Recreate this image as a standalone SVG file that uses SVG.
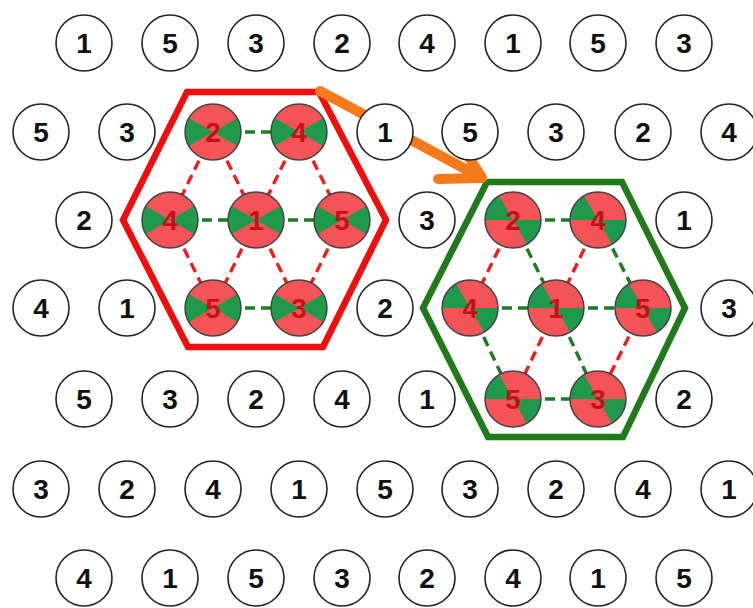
<svg xmlns="http://www.w3.org/2000/svg" xmlns:xlink="http://www.w3.org/1999/xlink" width="753" height="608" viewBox="0 0 753 608">
<style>
.c{fill:#fff;stroke:#222;stroke-width:1.6}
.t{font-family:"Liberation Sans",Arial,sans-serif;font-weight:bold;font-size:28px;fill:#111;text-anchor:middle}
.tr{font-family:"Liberation Sans",Arial,sans-serif;font-weight:bold;font-size:28px;fill:#c41018;text-anchor:middle}
.dg{fill:none;stroke:#1d7a22;stroke-width:3.4;stroke-dasharray:10 6}
.dr{fill:none;stroke:#f01c1c;stroke-width:3.4;stroke-dasharray:10 6}
.hr{fill:none;stroke:#f20c0c;stroke-width:6.5;stroke-linejoin:miter}
.hg{fill:none;stroke:#1f7a1a;stroke-width:6.5;stroke-linejoin:miter}
.ar{fill:none;stroke:#f57a1c;stroke-width:10;stroke-linecap:round;stroke-linejoin:round}
</style>
<defs>
<g id="pieA">
<circle r="28" fill="#f45458"/>
<path d="M0 0 L24.25 -14 A28 28 0 0 1 24.25 14 Z M0 0 L-24.25 14 A28 28 0 0 1 -24.25 -14 Z" fill="#1f9a4c"/>
<circle r="28" fill="none" stroke="#444" stroke-width="1.5"/>
</g>
<g id="pieB">
<circle r="28" fill="#f45458"/>
<path d="M0 0 L28 0 A28 28 0 0 1 14 24.25 Z M0 0 L-28 0 A28 28 0 0 1 -14 -24.25 Z" fill="#1f9a4c"/>
<circle r="28" fill="none" stroke="#444" stroke-width="1.5"/>
</g>
</defs>
<rect width="753" height="608" fill="#fff"/>

<g id="connectors">
<line class="dg" x1="213" y1="132" x2="299" y2="132"/>
<line class="dg" x1="170" y1="220" x2="256" y2="220"/>
<line class="dg" x1="256" y1="220" x2="342" y2="220"/>
<line class="dg" x1="213" y1="308" x2="299" y2="308"/>
<line class="dr" x1="213" y1="132" x2="170" y2="220"/>
<line class="dr" x1="213" y1="132" x2="256" y2="220"/>
<line class="dr" x1="299" y1="132" x2="256" y2="220"/>
<line class="dr" x1="299" y1="132" x2="342" y2="220"/>
<line class="dr" x1="170" y1="220" x2="213" y2="308"/>
<line class="dr" x1="256" y1="220" x2="213" y2="308"/>
<line class="dr" x1="256" y1="220" x2="299" y2="308"/>
<line class="dr" x1="342" y1="220" x2="299" y2="308"/>
<line class="dg" x1="513" y1="220" x2="598" y2="220"/>
<line class="dg" x1="470" y1="308" x2="556" y2="308"/>
<line class="dg" x1="556" y1="308" x2="643" y2="308"/>
<line class="dg" x1="513" y1="399" x2="598" y2="399"/>
<line class="dr" x1="513" y1="220" x2="470" y2="308"/>
<line class="dg" x1="513" y1="220" x2="556" y2="308"/>
<line class="dr" x1="598" y1="220" x2="556" y2="308"/>
<line class="dg" x1="598" y1="220" x2="643" y2="308"/>
<line class="dg" x1="470" y1="308" x2="513" y2="399"/>
<line class="dr" x1="556" y1="308" x2="513" y2="399"/>
<line class="dg" x1="556" y1="308" x2="598" y2="399"/>
<line class="dr" x1="643" y1="308" x2="598" y2="399"/>
<polygon class="hr" points="187,92 319,92 386,220 323,347 188,347 123,220"/>
<polygon class="hg" points="487,182 622,182 685,308 623,437 488,437 423,308"/>
<path class="ar" d="M320 91 L482 178 M459 141 L482 178 L438 179"/>
</g>

<g id="r1-1"><circle class="c" cx="84" cy="43" r="28"/><text class="t" x="84" y="53">1</text></g>
<g id="r1-2"><circle class="c" cx="170" cy="43" r="28"/><text class="t" x="170" y="53">5</text></g>
<g id="r1-3"><circle class="c" cx="256" cy="43" r="28"/><text class="t" x="256" y="53">3</text></g>
<g id="r1-4"><circle class="c" cx="342" cy="43" r="28"/><text class="t" x="342" y="53">2</text></g>
<g id="r1-5"><circle class="c" cx="427" cy="43" r="28"/><text class="t" x="427" y="53">4</text></g>
<g id="r1-6"><circle class="c" cx="513" cy="43" r="28"/><text class="t" x="513" y="53">1</text></g>
<g id="r1-7"><circle class="c" cx="598" cy="43" r="28"/><text class="t" x="598" y="53">5</text></g>
<g id="r1-8"><circle class="c" cx="684" cy="43" r="28"/><text class="t" x="684" y="53">3</text></g>

<g id="r2-1"><circle class="c" cx="41" cy="132" r="28"/><text class="t" x="41" y="142">5</text></g>
<g id="r2-2"><circle class="c" cx="127" cy="132" r="28"/><text class="t" x="127" y="142">3</text></g>
<g id="r2-5"><circle class="c" cx="385" cy="132" r="28"/><text class="t" x="385" y="142">1</text></g>
<g id="r2-6"><circle class="c" cx="470" cy="132" r="28"/><text class="t" x="470" y="142">5</text></g>
<g id="r2-7"><circle class="c" cx="556" cy="132" r="28"/><text class="t" x="556" y="142">3</text></g>
<g id="r2-8"><circle class="c" cx="643" cy="132" r="28"/><text class="t" x="643" y="142">2</text></g>
<g id="r2-9"><circle class="c" cx="729" cy="132" r="28"/><text class="t" x="729" y="142">4</text></g>

<g id="r3-1"><circle class="c" cx="84" cy="220" r="28"/><text class="t" x="84" y="230">2</text></g>
<g id="r3-5"><circle class="c" cx="427" cy="220" r="28"/><text class="t" x="427" y="230">3</text></g>
<g id="r3-8"><circle class="c" cx="684" cy="220" r="28"/><text class="t" x="684" y="230">1</text></g>

<g id="r4-1"><circle class="c" cx="41" cy="308" r="28"/><text class="t" x="41" y="318">4</text></g>
<g id="r4-2"><circle class="c" cx="127" cy="308" r="28"/><text class="t" x="127" y="318">1</text></g>
<g id="r4-5"><circle class="c" cx="385" cy="308" r="28"/><text class="t" x="385" y="318">2</text></g>
<g id="r4-9"><circle class="c" cx="729" cy="308" r="28"/><text class="t" x="729" y="318">3</text></g>

<g id="r5-1"><circle class="c" cx="84" cy="399" r="28"/><text class="t" x="84" y="409">5</text></g>
<g id="r5-2"><circle class="c" cx="170" cy="399" r="28"/><text class="t" x="170" y="409">3</text></g>
<g id="r5-3"><circle class="c" cx="256" cy="399" r="28"/><text class="t" x="256" y="409">2</text></g>
<g id="r5-4"><circle class="c" cx="342" cy="399" r="28"/><text class="t" x="342" y="409">4</text></g>
<g id="r5-5"><circle class="c" cx="427" cy="399" r="28"/><text class="t" x="427" y="409">1</text></g>
<g id="r5-8"><circle class="c" cx="684" cy="399" r="28"/><text class="t" x="684" y="409">2</text></g>

<g id="r6-1"><circle class="c" cx="41" cy="489" r="28"/><text class="t" x="41" y="499">3</text></g>
<g id="r6-2"><circle class="c" cx="127" cy="489" r="28"/><text class="t" x="127" y="499">2</text></g>
<g id="r6-3"><circle class="c" cx="213" cy="489" r="28"/><text class="t" x="213" y="499">4</text></g>
<g id="r6-4"><circle class="c" cx="299" cy="489" r="28"/><text class="t" x="299" y="499">1</text></g>
<g id="r6-5"><circle class="c" cx="385" cy="489" r="28"/><text class="t" x="385" y="499">5</text></g>
<g id="r6-6"><circle class="c" cx="470" cy="489" r="28"/><text class="t" x="470" y="499">3</text></g>
<g id="r6-7"><circle class="c" cx="556" cy="489" r="28"/><text class="t" x="556" y="499">2</text></g>
<g id="r6-8"><circle class="c" cx="643" cy="489" r="28"/><text class="t" x="643" y="499">4</text></g>
<g id="r6-9"><circle class="c" cx="729" cy="489" r="28"/><text class="t" x="729" y="499">1</text></g>

<g id="r7-1"><circle class="c" cx="84" cy="578" r="28"/><text class="t" x="84" y="588">4</text></g>
<g id="r7-2"><circle class="c" cx="170" cy="578" r="28"/><text class="t" x="170" y="588">1</text></g>
<g id="r7-3"><circle class="c" cx="256" cy="578" r="28"/><text class="t" x="256" y="588">5</text></g>
<g id="r7-4"><circle class="c" cx="342" cy="578" r="28"/><text class="t" x="342" y="588">3</text></g>
<g id="r7-5"><circle class="c" cx="427" cy="578" r="28"/><text class="t" x="427" y="588">2</text></g>
<g id="r7-6"><circle class="c" cx="513" cy="578" r="28"/><text class="t" x="513" y="588">4</text></g>
<g id="r7-7"><circle class="c" cx="598" cy="578" r="28"/><text class="t" x="598" y="588">1</text></g>
<g id="r7-8"><circle class="c" cx="684" cy="578" r="28"/><text class="t" x="684" y="588">5</text></g>

<g id="ra-2" transform="translate(213,132)"><use xlink:href="#pieA" href="#pieA"/><text class="tr" y="10">2</text></g>
<g id="ra-4" transform="translate(299,132)"><use xlink:href="#pieA" href="#pieA"/><text class="tr" y="10">4</text></g>
<g id="rb-4" transform="translate(170,220)"><use xlink:href="#pieA" href="#pieA"/><text class="tr" y="10">4</text></g>
<g id="rb-1" transform="translate(256,220)"><use xlink:href="#pieA" href="#pieA"/><text class="tr" y="10">1</text></g>
<g id="rb-5" transform="translate(342,220)"><use xlink:href="#pieA" href="#pieA"/><text class="tr" y="10">5</text></g>
<g id="rc-5" transform="translate(213,308)"><use xlink:href="#pieA" href="#pieA"/><text class="tr" y="10">5</text></g>
<g id="rc-3" transform="translate(299,308)"><use xlink:href="#pieA" href="#pieA"/><text class="tr" y="10">3</text></g>

<g id="ga-2" transform="translate(513,220)"><use xlink:href="#pieB" href="#pieB"/><text class="tr" y="10">2</text></g>
<g id="ga-4" transform="translate(598,220)"><use xlink:href="#pieB" href="#pieB"/><text class="tr" y="10">4</text></g>
<g id="gb-4" transform="translate(470,308)"><use xlink:href="#pieB" href="#pieB"/><text class="tr" y="10">4</text></g>
<g id="gb-1" transform="translate(556,308)"><use xlink:href="#pieB" href="#pieB"/><text class="tr" y="10">1</text></g>
<g id="gb-5" transform="translate(643,308)"><use xlink:href="#pieB" href="#pieB"/><text class="tr" y="10">5</text></g>
<g id="gc-5" transform="translate(513,399)"><use xlink:href="#pieB" href="#pieB"/><text class="tr" y="10">5</text></g>
<g id="gc-3" transform="translate(598,399)"><use xlink:href="#pieB" href="#pieB"/><text class="tr" y="10">3</text></g>
</svg>
